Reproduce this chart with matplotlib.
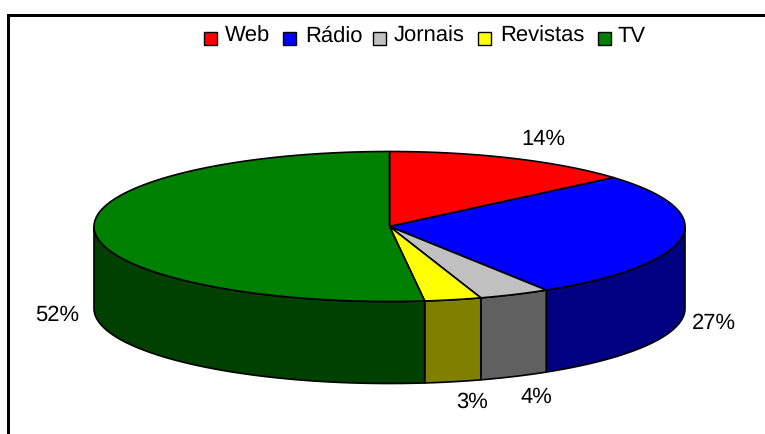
import numpy as np
import matplotlib
matplotlib.use("Agg")
import matplotlib.pyplot as plt
from matplotlib.patches import Polygon, Rectangle

labels = ["Web", "Rádio", "Jornais", "Revistas", "TV"]
values = [13.7, 27.4, 3.9, 3.1, 51.9]
colors = ["#FF0000", "#0000FF", "#C0C0C0", "#FFFF00", "#008000"]
sides = ["#800000", "#000080", "#606060", "#808000", "#004000"]
pct_labels = ["14%", "27%", "4%", "3%", "52%"]
label_xy = [(543, 139), (714, 323), (536, 397), (472, 402), (57, 315)]

W, H = 765, 434
CX, CY, RX, RY, DEPTH = 389.5, 226.5, 295.5, 75.0, 82.0

plt.rcParams["font.family"] = ["Liberation Sans", "DejaVu Sans"]
plt.rcParams["text.hinting"] = "no_hinting"
plt.rcParams["text.hinting_factor"] = 1
fig = plt.figure(figsize=(W / 100, H / 100), dpi=100)
ax = fig.add_axes([0, 0, 1, 1])
ax.set_xlim(0, W)
ax.set_ylim(H, 0)
ax.axis("off")

# chart frame: only the top and left edges show
ax.plot([8.5, 8.5, W], [H, 14.5, 14.5], color="black", lw=2.16, solid_capstyle="butt",
        solid_joinstyle="miter", zorder=1)


def pt(theta):
    """theta clockwise from 12 o'clock, in radians."""
    return CX + RX * np.sin(theta), CY - RY * np.cos(theta)


cum = np.cumsum([0] + values) / sum(values) * 2 * np.pi
edge = dict(edgecolor="black", linewidth=1.2, joinstyle="round")

# side walls (only the front half, theta between 90 and 270 deg)
for i in range(len(values)):
    a = max(cum[i], np.pi / 2)
    b = min(cum[i + 1], 3 * np.pi / 2)
    if a >= b:
        continue
    t = np.linspace(a, b, 120)
    x, y = pt(t)
    verts = np.r_[np.c_[x, y], np.c_[x, y + DEPTH][::-1]]
    ax.add_patch(Polygon(verts, closed=True, facecolor=sides[i], zorder=2, **edge))

# top face
for i in range(len(values)):
    t = np.linspace(cum[i], cum[i + 1], 240)
    x, y = pt(t)
    verts = np.r_[[(CX, CY)], np.c_[x, y]]
    ax.add_patch(Polygon(verts, closed=True, facecolor=colors[i], zorder=3, **edge))

# percent labels
for (lx, ly), s in zip(label_xy, pct_labels):
    ax.text(lx, ly, s, fontsize=16, ha="center", va="center", color="black", zorder=4)

# legend
swatch_x = [204.5, 283.5, 373.5, 478.5, 598.5]
text_x = [225, 305, 394, 500, 618]
for sx, tx, c, s in zip(swatch_x, text_x, colors, labels):
    ax.add_patch(Rectangle((sx, 32), 13, 13, facecolor=c, edgecolor="black", linewidth=1.0, zorder=4))
    ax.text(tx, 36, s, fontsize=16, ha="left", va="center", color="black", zorder=4)

fig.savefig("out.png", dpi=100, facecolor="white")
